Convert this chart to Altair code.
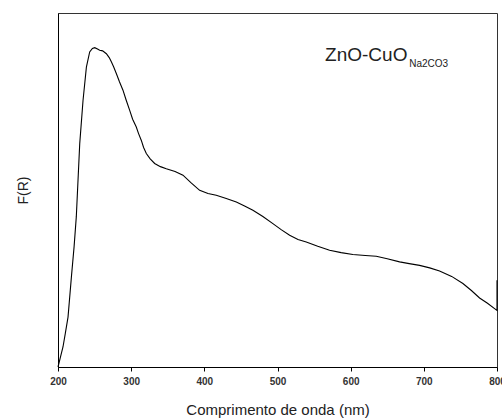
import altair as alt
import pandas as pd

# Diffuse reflectance spectrum, Kubelka-Munk F(R) (arbitrary units)
wavelength_nm = [200, 203, 206.8, 210, 213.7, 218.3, 222, 225, 229.7, 234.2, 238.8,
                 243.3, 247, 250.2, 254, 257, 261, 266.1, 270, 272.9, 276, 279.7,
                 284, 288.8, 293, 298, 302, 307, 310, 313.9, 317, 320.7, 326,
                 332.1, 340, 348, 360, 370.8, 382, 393.6, 405, 416.3, 430, 443.7,
                 455, 466.4, 480, 493.7, 505, 516.6, 528, 539.3, 555, 571.2, 587,
                 603, 620, 635, 650, 666.9, 680, 694.2, 708, 721.5, 738, 753.4,
                 765, 776.2, 787, 796.7, 800, 800]
fr_values = [0.0, 0.025, 0.0565, 0.095, 0.141, 0.254, 0.34, 0.424, 0.631, 0.753, 0.847,
             0.890, 0.900, 0.902, 0.898, 0.895, 0.893, 0.885, 0.874, 0.862, 0.848, 0.829,
             0.806, 0.782, 0.755, 0.725, 0.700, 0.678, 0.660, 0.640, 0.620, 0.603, 0.588,
             0.575, 0.566, 0.560, 0.552, 0.542, 0.520, 0.499, 0.490, 0.485, 0.476, 0.466,
             0.455, 0.443, 0.425, 0.405, 0.388, 0.372, 0.360, 0.353, 0.341, 0.330, 0.323,
             0.318, 0.315, 0.313, 0.306, 0.297, 0.292, 0.287, 0.280, 0.271, 0.256, 0.236,
             0.216, 0.195, 0.180, 0.165, 0.160, 0.245]

sample_label = "ZnO-CuO"
sample_subscript = "Na2CO3"

# major ticks every 100 nm (labelled), minor ticks in between (unlabelled)
x_ticks = [200, 250, 300, 350, 400, 450, 500, 550, 600, 650, 700, 750, 800]

spectrum = pd.DataFrame({"nm": wavelength_nm, "fr": fr_values,
                         "i": list(range(len(wavelength_nm)))})

x_scale = alt.Scale(domain=[200, 800], nice=False, zero=False)
y_scale = alt.Scale(domain=[0, 1], nice=False, zero=True)

curve = alt.Chart(spectrum).mark_line(color="#000000", strokeWidth=1.1).encode(
    x=alt.X("nm:Q", scale=x_scale,
            axis=alt.Axis(title="Comprimento de onda (nm)", values=x_ticks,
                          labelExpr="datum.value % 100 == 0 ? datum.label : ''",
                          grid=False, domainColor="#000000", tickColor="#000000",
                          tickSize=4, labelFont="Liberation Sans", labelFontSize=10,
                          labelFontWeight="bold", labelColor="#333333",
                          labelPadding=5, labelFlush=False, labelOverlap=False,
                          titleFont="Liberation Sans", titleFontSize=15,
                          titleFontWeight="normal", titleColor="#222222",
                          titlePadding=16)),
    y=alt.Y("fr:Q", scale=y_scale,
            axis=alt.Axis(title="F(R)", labels=False, ticks=False, grid=False,
                          domainColor="#000000", titleFont="Liberation Sans",
                          titleFontSize=14, titleFontWeight="normal",
                          titleColor="#222222", titlePadding=28)),
    order="i:Q",
)

labels = pd.DataFrame({"nm": [565, 680], "fr": [0.864, 0.848],
                       "t": [sample_label, sample_subscript]})
main_text = alt.Chart(labels.iloc[[0]]).mark_text(
    align="left", baseline="alphabetic", font="Liberation Sans",
    fontSize=19, color="#222222"
).encode(x=alt.X("nm:Q", scale=x_scale), y=alt.Y("fr:Q", scale=y_scale), text="t:N")
sub_text = alt.Chart(labels.iloc[[1]]).mark_text(
    align="left", baseline="alphabetic", font="Liberation Sans",
    fontSize=10, color="#222222"
).encode(x=alt.X("nm:Q", scale=x_scale), y=alt.Y("fr:Q", scale=y_scale), text="t:N")

chart = alt.layer(curve, main_text, sub_text).properties(
    width=439, height=354,
    autosize=alt.AutoSizeParams(type="none"),
    padding={"left": 58, "top": 13, "right": 5, "bottom": 51},
    background="white",
).configure_view(stroke="#333333", strokeWidth=1)

chart.save("out.html", embed_options={"renderer": "svg", "actions": False})
